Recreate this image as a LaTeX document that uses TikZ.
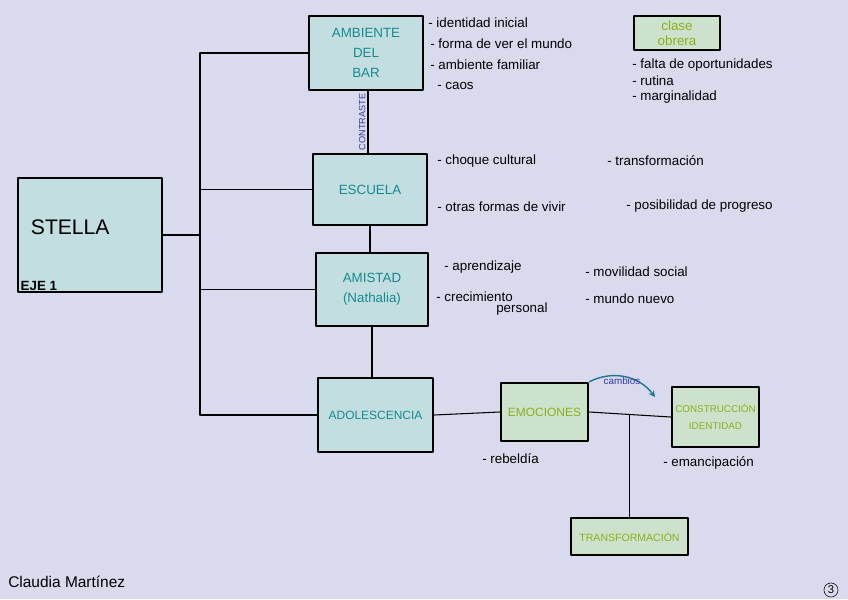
\documentclass[tikz,border=0pt]{standalone}
\usepackage{fontspec}
\setmainfont{Liberation Sans}
\usetikzlibrary{positioning}
\definecolor{hoja}{RGB}{218,218,238}
\definecolor{rellenoazul}{RGB}{194,222,224}
\definecolor{rellenoverde}{RGB}{204,226,204}
\definecolor{tintaazul}{RGB}{22,138,146}
\definecolor{tintaverde}{RGB}{138,176,28}
\definecolor{boli}{RGB}{48,58,168}
\definecolor{flecha}{RGB}{28,118,150}
\tikzset{
  caja/.style={draw=black, line width=1.8pt, fill=rellenoazul, text=tintaazul,
    align=center, font=\fontsize{9.5}{14}\selectfont, inner sep=2pt},
  cajaverde/.style={caja, fill=rellenoverde, text=tintaverde},
  nota/.style={anchor=west, font=\fontsize{9.5}{11}\selectfont, inner sep=0pt},
  rama/.style={line width=0.75pt},
}
\begin{document}
\begin{tikzpicture}[x=0.025cm, y=-0.025cm, line cap=round, line join=round]
	\fill[hoja] (0,0) rectangle (848,599);
	\useasboundingbox (0,0) rectangle (848,599);
	% cajas
	\node[caja, minimum width=3.6cm, minimum height=2.85cm] (stella) at (90,235) {};
	\node[anchor=west, font=\fontsize{15}{18}\selectfont] (nombre) at (26,227) {STELLA};
	\node[anchor=south west, font=\bfseries\fontsize{9.5}{11}\selectfont, inner sep=1pt] (eje) at (19,292) {EJE 1};
	\node[caja, minimum width=2.85cm, minimum height=1.85cm] (ambiente) at (366,53) {AMBIENTE\\DEL\\BAR};
	\node[caja, minimum width=2.85cm, minimum height=1.78cm] (escuela) at (370,189.5) {ESCUELA};
	\node[caja, minimum width=2.8cm, minimum height=1.83cm] (amistad) at (372,289.5) {AMISTAD\\(Nathalia)};
	\node[caja, minimum width=2.88cm, minimum height=1.85cm, font=\fontsize{8.5}{11}\selectfont] (adolescencia) at (375.5,415) {ADOLESCENCIA};
	\node[cajaverde, minimum width=2.18cm, minimum height=1.45cm, font=\fontsize{8.5}{11}\selectfont] (emociones) at (544.5,412) {EMOCIONES};
	\node[cajaverde, minimum width=2.18cm, minimum height=1.5cm, font=\fontsize{7}{12}\selectfont] (construccion) at (715.5,417) {CONSTRUCCIÓN\\IDENTIDAD};
	\node[cajaverde, minimum width=2.93cm, minimum height=0.93cm, font=\fontsize{7.5}{10}\selectfont] (transformacion) at (629.5,536.5) {TRANSFORMACIÓN};
	\node[cajaverde, minimum width=2.15cm, minimum height=0.85cm, font=\fontsize{9.5}{11}\selectfont] (obrera) at (677,33) {clase\\obrera};
	% ramas
	\coordinate (tronco) at (200,53);
	\draw[rama] (stella.east) -- (stella.east -| tronco);
	\draw[rama] (tronco) -- (tronco |- adolescencia.west);
	\draw[rama] (tronco) -- (ambiente.west);
	\draw[rama] (tronco |- escuela.west) -- (escuela.west);
	\draw[rama] (tronco |- amistad.west) -- (amistad.west);
	\draw[rama] (tronco |- adolescencia.west) -- (adolescencia.west);
	\draw[rama] (ambiente.south) ++(2,0) coordinate (contraste) -- (contraste |- escuela.north)
		node[midway, rotate=90, anchor=south, inner sep=1.5pt, text=boli, font=\fontsize{6.5}{7}\selectfont] {CONTRASTE};
	\draw[rama] (escuela.south) -- (escuela.south |- amistad.north);
	\draw[rama] (amistad.south) -- (amistad.south |- adolescencia.north);
	\draw[rama] (adolescencia.east) -- (emociones.west);
	\draw[rama] (emociones.east) -- (construccion.west) coordinate[pos=0.5] (cruce);
	\draw[rama] (transformacion.north) -- (transformacion.north |- cruce);
	\coordinate (finCambios) at (655,397);
	\draw[->, flecha, line width=1pt, >=stealth] (emociones.north east) to[bend left=40] (finCambios);
	\node[text=boli, font=\fontsize{7}{8}\selectfont] (cambios) at (622,381) {cambios};
	% notas
	\node[nota] (n1) at (428,23) {- identidad inicial};
	\node[nota] (n2) at (430,44) {- forma de ver el mundo};
	\node[nota] (n3) at (430,65) {- ambiente familiar};
	\node[nota] (n4) at (437,86) {- caos};
	\node[nota] (n5) at (632,65) {- falta de oportunidades};
	\node[nota] (n6) at (632,81) {- rutina};
	\node[nota] (n7) at (632,97) {- marginalidad};
	\node[nota] (n8) at (437,161) {- choque cultural};
	\node[nota] (n9) at (607,161) {- transformación};
	\node[nota] (n10) at (437,207) {- otras formas de vivir};
	\node[nota] (n11) at (626,206) {- posibilidad de progreso};
	\node[nota] (n12) at (444,267) {- aprendizaje};
	\node[nota] (n13) at (585,272) {- movilidad social};
	\node[nota] (n14) at (436,297) {- crecimiento};
	\node[nota] (n15) at (496,309) {personal};
	\node[nota] (n16) at (585,299) {- mundo nuevo};
	\node[nota] (n17) at (482,459) {- rebeldía};
	\node[nota] (n18) at (663,463) {- emancipación};
	\node[nota, font=\fontsize{11}{13}\selectfont] (firma) at (8,582) {Claudia Martínez};
	\node[draw, circle, inner sep=1pt, font=\fontsize{8}{9}\selectfont] (pagina) at (831,590) {3};
\end{tikzpicture}
\end{document}
